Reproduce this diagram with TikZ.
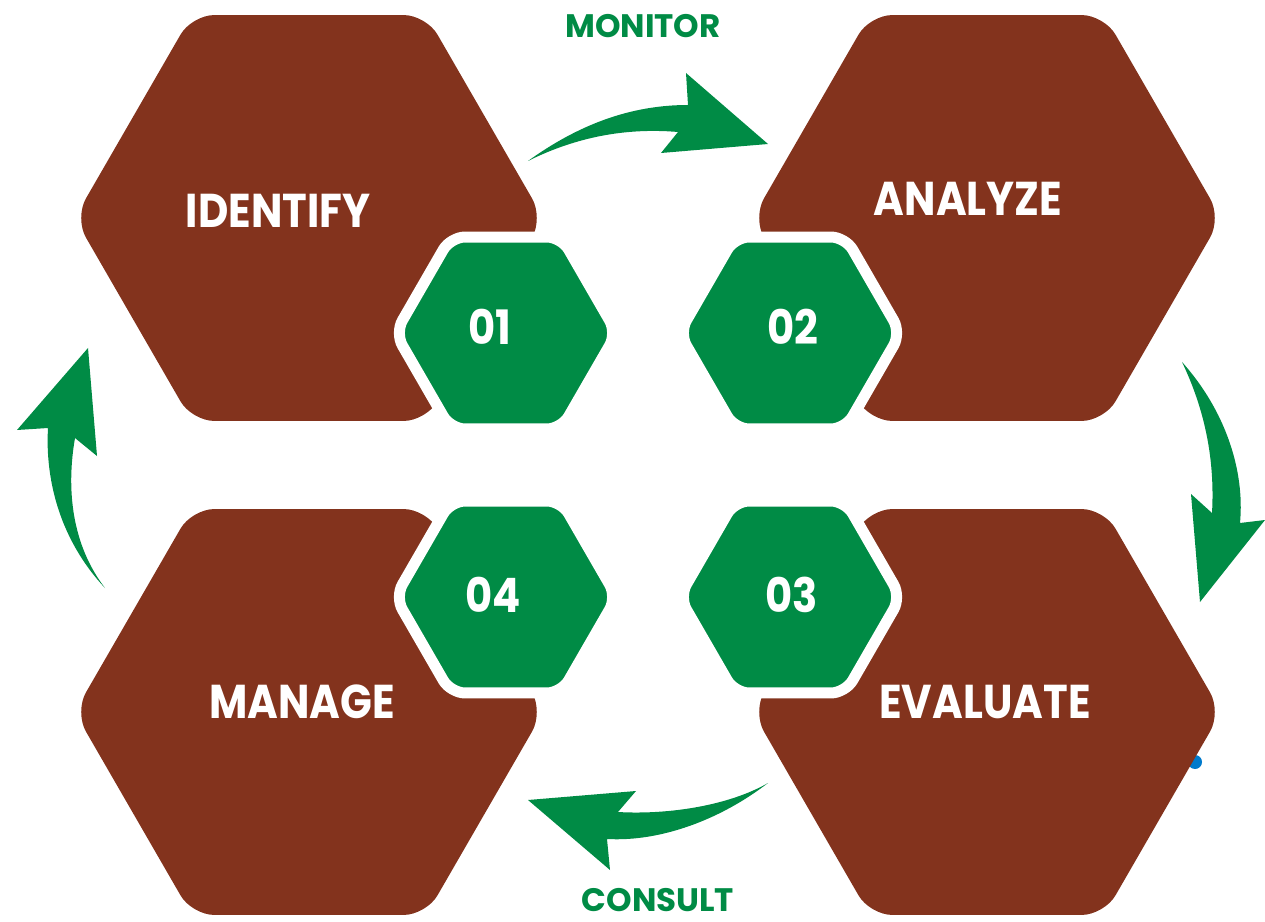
\documentclass[tikz,border=0pt]{standalone}
\usepackage{fontspec}
\setmainfont{Poppins}
\newfontfamily\hexfont{Poppins}[FakeStretch=0.88]
\usetikzlibrary{shapes.geometric}
\definecolor{rustbrown}{RGB}{131,51,29}
\definecolor{stepgreen}{RGB}{0,139,69}
\definecolor{dotblue}{RGB}{0,122,204}
\tikzset{
  bighex/.style={regular polygon, regular polygon sides=6, minimum size=9.376cm,
                 inner sep=0pt, fill=rustbrown, rounded corners=0.45cm},
  numhex/.style={regular polygon, regular polygon sides=6, minimum size=4.434cm,
                 inner sep=0pt, fill=stepgreen, draw=white, line width=0.22cm,
                 rounded corners=0.29cm},
  steptext/.style={text=white, inner sep=0pt, font=\hexfont\bfseries\fontsize{27}{30}\selectfont},
  cycletext/.style={text=stepgreen, inner sep=0pt, font=\bfseries\fontsize{18.5}{21}\selectfont},
  bigarrow/.style={fill=stepgreen},
}

\begin{document}
\begin{tikzpicture}[x=0.02cm, y=-0.02cm]
\useasboundingbox (0,0) rectangle (1265,922);

\fill[dotblue] (1195,762) circle[radius=0.14cm];

% curved arrows
\fill[bigarrow] (528,161) .. controls (578,125) and (630,105) .. (688,105)
  -- (686,73) -- (768,144) -- (661,153) -- (678,132)
  .. controls (620,127) and (570,140) .. (528,161) -- cycle;
\fill[bigarrow] (1182,362) .. controls (1225,410) and (1245,470) .. (1240,523)
  -- (1265,520) -- (1200,602) -- (1191,494) -- (1212,513)
  .. controls (1215,460) and (1205,410) .. (1182,362) -- cycle;
\fill[bigarrow] (768,783) .. controls (720,820) and (660,842) .. (607,839)
  -- (610,870) -- (528,800) -- (636,791) -- (618,812)
  .. controls (670,815) and (730,805) .. (768,783) -- cycle;
\fill[bigarrow] (105,588) .. controls (60,540) and (45,480) .. (48,428)
  -- (17,430) -- (88,348) -- (97,456) -- (75,438)
  .. controls (66,490) and (72,545) .. (105,588) -- cycle;

% big hexagons
\foreach \n/\x/\y in {identify/309/218, analyze/987/218, evaluate/987/712, manage/309/712}
  \node[bighex] (\n) at (\x,\y) {};

% number hexagons
\foreach \n/\x/\y in {h01/506/333, h02/790/333, h03/790/597, h04/506/597}
  \node[numhex] (\n) at (\x,\y) {};

\node[steptext] (tidentify) at (278,211) {IDENTIFY};
\node[steptext] (tanalyze) at (968,199) {ANALYZE};
\node[steptext] (tevaluate) at (985,702) {EVALUATE};
\node[steptext] (tmanage) at (302,702) {MANAGE};

\node[steptext] (n01) at (490,327) {01};
\node[steptext] (n02) at (793,327) {02};
\node[steptext] (n03) at (792,595) {03};
\node[steptext] (n04) at (493,595) {04};

\node[cycletext] (monitor) at (643,26) {MONITOR};
\node[cycletext] (consult) at (658,900) {CONSULT};
\end{tikzpicture}
\end{document}
